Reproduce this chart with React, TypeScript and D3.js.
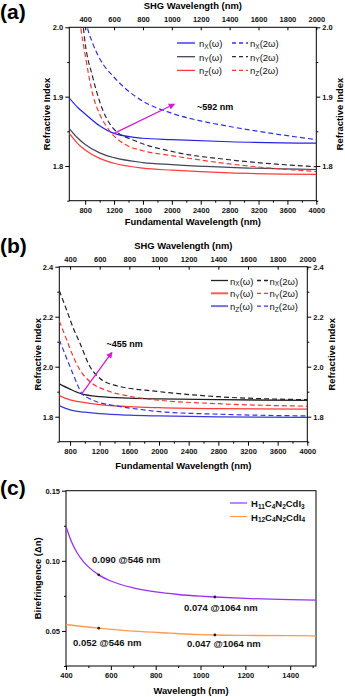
import React, { useEffect, useRef } from 'react';
import * as d3 from 'd3';

// (a) refractive index vs fundamental wavelength (nm)
const aNxW = [[580, 1.898], [700, 1.884], [800, 1.875], [1000, 1.858], [1200, 1.847], [1600, 1.840], [2000, 1.838], [2800, 1.835], [4000, 1.833]];
const aNyW = [[580, 1.854], [700, 1.840], [800, 1.831], [1000, 1.819], [1200, 1.812], [1600, 1.805], [2000, 1.802], [2800, 1.798], [4000, 1.795]];
const aNzW = [[580, 1.847], [700, 1.832], [800, 1.823], [1000, 1.811], [1200, 1.804], [1600, 1.797], [2000, 1.794], [2800, 1.790], [4000, 1.788]];
const aNx2W = [[810, 2.01], [830, 2.0], [900, 1.978], [1000, 1.955], [1200, 1.928], [1500, 1.900], [2000, 1.876], [2400, 1.865], [2800, 1.857], [3200, 1.850], [4000, 1.838]];
const aNy2W = [[760, 2.01], [774, 2.0], [800, 1.977], [900, 1.930], [1000, 1.893], [1200, 1.853], [1500, 1.836], [2000, 1.821], [2800, 1.809], [4000, 1.799]];
const aNz2W = [[725, 2.01], [738, 2.0], [800, 1.960], [912, 1.900], [1000, 1.875], [1144, 1.850], [1375, 1.830], [1600, 1.822], [2000, 1.815], [2800, 1.803], [4000, 1.792]];
const aArrow = [[1200, 1.847], [2030, 1.889]];

// (b)
const bNxW = [[655, 1.931], [800, 1.910], [957, 1.891], [1200, 1.880], [1600, 1.874], [2000, 1.871], [2800, 1.868], [4000, 1.865]];
const bNyW = [[655, 1.884], [800, 1.867], [980, 1.857], [1200, 1.848], [1600, 1.840], [2000, 1.836], [2800, 1.832], [4000, 1.830]];
const bNzW = [[655, 1.844], [800, 1.827], [1000, 1.818], [1200, 1.812], [1600, 1.806], [2000, 1.803], [2800, 1.799], [4000, 1.797]];
const bNx2W = [[655, 2.304], [755, 2.226], [844, 2.154], [934, 2.094], [1069, 2.0], [1204, 1.953], [1384, 1.927], [2013, 1.900], [2800, 1.880], [4000, 1.868]];
const bNy2W = [[655, 2.183], [755, 2.107], [844, 2.040], [934, 1.987], [1069, 1.940], [1294, 1.905], [1600, 1.882], [2000, 1.866], [2800, 1.852], [4000, 1.842]];
const bNz2W = [[655, 2.107], [755, 2.033], [844, 1.968], [900, 1.928], [957, 1.893], [1050, 1.874], [1159, 1.860], [1429, 1.843], [1744, 1.829], [2013, 1.820], [2800, 1.810], [4000, 1.803]];
const bArrow = [[957, 1.891], [1362, 2.056]];

// (c) birefringence vs wavelength
const cH11 = [[400, 0.1245], [425, 0.1134], [450, 0.1056], [475, 0.1000], [500, 0.0957], [546, 0.0900], [600, 0.0856], [700, 0.0807], [800, 0.0778], [900, 0.0760], [1000, 0.0748], [1064, 0.0742], [1200, 0.0732], [1400, 0.0723], [1515, 0.0720]];
const cH12 = [[400, 0.0546], [546, 0.0520], [700, 0.0498], [864, 0.0484], [1000, 0.0474], [1064, 0.0471], [1200, 0.0468], [1400, 0.0466], [1515, 0.0465]];
const cMarks = [[546, 0.090], [1064, 0.0742], [546, 0.052], [1064, 0.0471]];
const cNotes = ['0.090 @546 nm', '0.074 @1064 nm', '0.052 @546 nm', '0.047 @1064 nm'];

const fundTicks = [800, 1200, 1600, 2000, 2400, 2800, 3200, 3600, 4000];
const fundMinor = [1000, 1400, 1800, 2200, 2600, 3000, 3400, 3800];
const shgTicks = [400, 600, 800, 1000, 1200, 1400, 1600, 1800, 2000];
const aYTicks = [1.8, 1.9, 2.0];
const aYMinor = [1.75, 1.85, 1.95];
const bYTicks = [1.8, 2.0, 2.2, 2.4];
const bYMinor = [1.7, 1.9, 2.1, 2.3];
const cXTicks = [400, 600, 800, 1000, 1200, 1400];
const cXMinor = [500, 700, 900, 1100, 1300, 1500];
const cYTicks = [0.05, 0.10, 0.15];
const cYMinor = [0.025, 0.075, 0.125];

const FONT = "'Liberation Sans', Arial, sans-serif";

const styleAxis = (g) => {
  g.select('.domain').remove();
  g.selectAll('line').attr('stroke', '#000').attr('stroke-width', 1);
  g.selectAll('text').attr('font-family', FONT).attr('font-size', 7.5).attr('font-weight', 'bold').attr('fill', '#111');
};

const App = () => {
  const svgRef = useRef(null);

  useEffect(() => {
    const svg = d3.select(svgRef.current);
    svg.selectAll('*').remove();

    const defs = svg.append('defs');
    defs.append('marker')
      .attr('id', 'arrowhead')
      .attr('viewBox', '0 0 10 10')
      .attr('refX', 8).attr('refY', 5)
      .attr('markerWidth', 5).attr('markerHeight', 5)
      .attr('orient', 'auto')
      .append('path').attr('d', 'M0,0 L10,5 L0,10 z').attr('fill', '#d21fd2');

    const panel = (id, x, y, yTicks, yMinor, fmt, opts) => {
      const [l, r] = x.range();
      const [b, t] = y.range();
      const g = svg.append('g');
      defs.append('clipPath').attr('id', 'clip-' + id)
        .append('rect').attr('x', l).attr('y', t).attr('width', r - l).attr('height', b - t);

      g.append('g').attr('transform', `translate(0,${b})`)
        .call(d3.axisBottom(x).tickValues(opts.xTicks).tickSize(4).tickPadding(3).tickFormat(d3.format('d')))
        .call(styleAxis);
      g.append('g').attr('transform', `translate(0,${b})`)
        .call(d3.axisBottom(x).tickValues(opts.xMinor).tickSize(2).tickFormat(() => ''))
        .call(styleAxis);
      g.append('g').attr('transform', `translate(${l},0)`)
        .call(d3.axisLeft(y).tickValues(yTicks).tickSize(4).tickPadding(2).tickFormat(fmt))
        .call(styleAxis);
      g.append('g').attr('transform', `translate(${l},0)`)
        .call(d3.axisLeft(y).tickValues(yMinor).tickSize(2).tickFormat(() => ''))
        .call(styleAxis);

      if (opts.twin) {
        const shg = d3.scaleLinear().domain(x.domain().map((v) => v / 2)).range(x.range());
        g.append('g').attr('transform', `translate(0,${t})`)
          .call(d3.axisTop(shg).tickValues(shgTicks).tickSize(-3).tickPadding(5).tickFormat(d3.format('d')))
          .call(styleAxis);
        g.append('g').attr('transform', `translate(${r},0)`)
          .call(d3.axisRight(y).tickValues(yTicks).tickSize(4).tickPadding(2).tickFormat(fmt))
          .call(styleAxis);
        g.append('g').attr('transform', `translate(${r},0)`)
          .call(d3.axisRight(y).tickValues(yMinor).tickSize(2).tickFormat(() => ''))
          .call(styleAxis);
        g.append('text').attr('x', (l + r) / 2).attr('y', t - 18)
          .attr('text-anchor', 'middle').attr('font-family', FONT).attr('font-size', 9.4).attr('font-weight', 'bold')
          .text('SHG Wavelength (nm)');
        g.append('text')
          .attr('transform', `translate(${opts.rightTitleX},${(t + b) / 2}) rotate(-90)`)
          .attr('text-anchor', 'middle').attr('dominant-baseline', 'central')
          .attr('font-family', FONT).attr('font-size', 9.4).attr('font-weight', 'bold')
          .text(opts.yTitle);
      }

      g.append('rect').attr('x', l).attr('y', t).attr('width', r - l).attr('height', b - t)
        .attr('fill', 'none').attr('stroke', '#000').attr('stroke-width', 1);

      g.append('text').attr('x', (l + r) / 2).attr('y', b + opts.xTitleDy)
        .attr('text-anchor', 'middle').attr('font-family', FONT).attr('font-size', 9.4).attr('font-weight', 'bold')
        .text(opts.xTitle);
      g.append('text')
        .attr('transform', `translate(${opts.leftTitleX},${(t + b) / 2}) rotate(-90)`)
        .attr('text-anchor', 'middle').attr('dominant-baseline', 'central')
        .attr('font-family', FONT).attr('font-size', 9.4).attr('font-weight', 'bold')
        .text(opts.yTitle);
      g.append('text').attr('x', 0).attr('y', opts.tagY)
        .attr('font-family', FONT).attr('font-size', 21).attr('font-weight', 'bold')
        .text(opts.tag);

      const plot = g.append('g').attr('clip-path', `url(#clip-${id})`);
      return { g, plot };
    };

    const drawLine = (plot, x, y, data, color, dash, w = 1.2) => {
      const line = d3.line().x((d) => x(d[0])).y((d) => y(d[1])).curve(d3.curveMonotoneX);
      plot.append('path').datum(data).attr('d', line)
        .attr('fill', 'none').attr('stroke', color).attr('stroke-width', w)
        .attr('stroke-dasharray', dash ? '5,3' : null);
    };

    const nLabel = (g, x, yy, sub, arg) => {
      const t = g.append('text').attr('x', x).attr('y', yy).attr('dominant-baseline', 'central')
        .attr('font-family', FONT).attr('font-size', 9.5).attr('fill', '#111');
      t.append('tspan').text('n');
      t.append('tspan').attr('dy', 2.5).attr('font-size', 6.5).text(sub);
      t.append('tspan').attr('dy', -2.5).text(arg);
    };

    const arrow = (g, x, y, pts) => {
      g.append('line')
        .attr('x1', x(pts[0][0])).attr('y1', y(pts[0][1]))
        .attr('x2', x(pts[1][0])).attr('y2', y(pts[1][1]))
        .attr('stroke', '#d21fd2').attr('stroke-width', 1.3)
        .attr('marker-end', 'url(#arrowhead)');
    };

    // ---- (a)
    const xA = d3.scaleLinear().domain([580, 4000]).range([69.3, 316.3]);
    const yA = d3.scaleLinear().domain([1.75, 2.0]).range([200.7, 27.3]);
    const pa = panel('a', xA, yA, aYTicks, aYMinor, d3.format('.1f'), {
      xTicks: fundTicks, xMinor: fundMinor, twin: true,
      xTitle: 'Fundamental Wavelength (nm)', yTitle: 'Refractive Index',
      xTitleDy: 24, leftTitleX: 46, rightTitleX: 339, tag: '(a)', tagY: 18.5,
    });
    drawLine(pa.plot, xA, yA, aNxW, '#2323e8', false);
    drawLine(pa.plot, xA, yA, aNyW, '#45455a', false);
    drawLine(pa.plot, xA, yA, aNzW, '#ff3b3b', false);
    drawLine(pa.plot, xA, yA, aNx2W, '#3030ee', true);
    drawLine(pa.plot, xA, yA, aNy2W, '#2a2a44', true);
    drawLine(pa.plot, xA, yA, aNz2W, '#ff3333', true);
    arrow(pa.g, xA, yA, aArrow);
    pa.g.append('text').attr('x', 197).attr('y', 109.5)
      .attr('font-family', FONT).attr('font-size', 9).attr('font-weight', 'bold').text('~592 nm');

    const legA = [['X', '#2323e8', '#3030ee'], ['Y', '#45455a', '#2a2a44'], ['Z', '#ff3b3b', '#ff3333']];
    legA.forEach(([s, c1, c2], i) => {
      const ly = 43 + i * 13.7;
      pa.g.append('line').attr('x1', 177).attr('x2', 195).attr('y1', ly).attr('y2', ly).attr('stroke', c1).attr('stroke-width', 1.3);
      nLabel(pa.g, 199, ly, s, '(ω)');
      pa.g.append('line').attr('x1', 232).attr('x2', 248).attr('y1', ly).attr('y2', ly).attr('stroke', c2).attr('stroke-width', 1.3).attr('stroke-dasharray', '4,3');
      nLabel(pa.g, 250, ly, s, '(2ω)');
    });

    // ---- (b)
    const xB = d3.scaleLinear().domain([655, 4000]).range([59.3, 307.3]);
    const yB = d3.scaleLinear().domain([1.7, 2.4]).range([441.7, 266.7]);
    const pb = panel('b', xB, yB, bYTicks, bYMinor, d3.format('.1f'), {
      xTicks: fundTicks, xMinor: fundMinor, twin: true,
      xTitle: 'Fundamental Wavelength (nm)', yTitle: 'Refractive Index',
      xTitleDy: 27, leftTitleX: 37, rightTitleX: 331, tag: '(b)', tagY: 253,
    });
    drawLine(pb.plot, xB, yB, bNxW, '#222222', false, 1.3);
    drawLine(pb.plot, xB, yB, bNyW, '#ff3a3a', false, 1.3);
    drawLine(pb.plot, xB, yB, bNzW, '#3a3ad6', false, 1.3);
    drawLine(pb.plot, xB, yB, bNx2W, '#222222', true);
    drawLine(pb.plot, xB, yB, bNy2W, '#ff3333', true);
    drawLine(pb.plot, xB, yB, bNz2W, '#3535e0', true);
    arrow(pb.g, xB, yB, bArrow);
    pb.g.append('text').attr('x', 106.5).attr('y', 346.8)
      .attr('font-family', FONT).attr('font-size', 9).attr('font-weight', 'bold').text('~455 nm');

    const legB = [['X', '#222222', '#222222'], ['Y', '#ff5a5a', '#ff3333'], ['Z', '#7474e0', '#3535e0']];
    legB.forEach(([s, c1, c2], i) => {
      const ly = 280.5 + i * 12.8;
      pb.g.append('line').attr('x1', 211).attr('x2', 228).attr('y1', ly).attr('y2', ly).attr('stroke', c1).attr('stroke-width', i === 0 ? 1.3 : 2);
      nLabel(pb.g, 230, ly, s, '(ω)');
      pb.g.append('line').attr('x1', 257).attr('x2', 268).attr('y1', ly).attr('y2', ly).attr('stroke', c2).attr('stroke-width', 1.3).attr('stroke-dasharray', '4,3');
      nLabel(pb.g, 269.5, ly, s, '(2ω)');
    });

    // ---- (c)
    const xC = d3.scaleLinear().domain([400, 1515]).range([66, 316]);
    const yC = d3.scaleLinear().domain([0.025, 0.15]).range([666, 490.7]);
    const pc = panel('c', xC, yC, cYTicks, cYMinor, d3.format('.2f'), {
      xTicks: cXTicks, xMinor: cXMinor, twin: false,
      xTitle: 'Wavelength (nm)', yTitle: 'Birefringence (Δn)',
      xTitleDy: 27.5, leftTitleX: 37.5, tag: '(c)', tagY: 495,
    });
    drawLine(pc.plot, xC, yC, cH11, '#9b30f2', false, 1.3);
    drawLine(pc.plot, xC, yC, cH12, '#ff9a52', false, 1.3);
    pc.plot.selectAll('circle.mark').data(cMarks).enter().append('circle')
      .attr('class', 'mark')
      .attr('cx', (d) => xC(d[0])).attr('cy', (d) => yC(d[1])).attr('r', 1.4).attr('fill', '#222');

    const notePos = [[92, 562.5], [184, 610.5], [73, 645.5], [187, 646.5]];
    cNotes.forEach((s, i) => {
      pc.g.append('text').attr('x', notePos[i][0]).attr('y', notePos[i][1])
        .attr('font-family', FONT).attr('font-size', 9.5).attr('font-weight', 'bold').attr('fill', '#111').text(s);
    });

    const formulas = [
      [['H', ''], ['11', 's'], ['C', ''], ['4', 's'], ['N', ''], ['2', 's'], ['CdI', ''], ['3', 's']],
      [['H', ''], ['12', 's'], ['C', ''], ['4', 's'], ['N', ''], ['2', 's'], ['CdI', ''], ['4', 's']],
    ];
    const legCol = ['#9b30f2', '#ff9a52'];
    formulas.forEach((parts, i) => {
      const ly = 503 + i * 13.5;
      pc.g.append('line').attr('x1', 230).attr('x2', 247).attr('y1', ly).attr('y2', ly).attr('stroke', legCol[i]).attr('stroke-width', 1.2);
      const t = pc.g.append('text').attr('x', 251).attr('y', ly).attr('dominant-baseline', 'central')
        .attr('font-family', FONT).attr('font-size', 9.5).attr('font-weight', 'bold').attr('fill', '#111');
      let low = false;
      parts.forEach(([txt, kind]) => {
        const sp = t.append('tspan').text(txt);
        if (kind === 's' && !low) { sp.attr('dy', 2.5).attr('font-size', 6.5); low = true; }
        else if (kind === 's') { sp.attr('font-size', 6.5); }
        else if (low) { sp.attr('dy', -2.5); low = false; }
      });
    });
  }, []);

  return (
    <svg ref={svgRef} width={345} height={697}
      style={{ position: 'absolute', left: 0, top: 0, background: '#fff' }} />
  );
};

export default App;
